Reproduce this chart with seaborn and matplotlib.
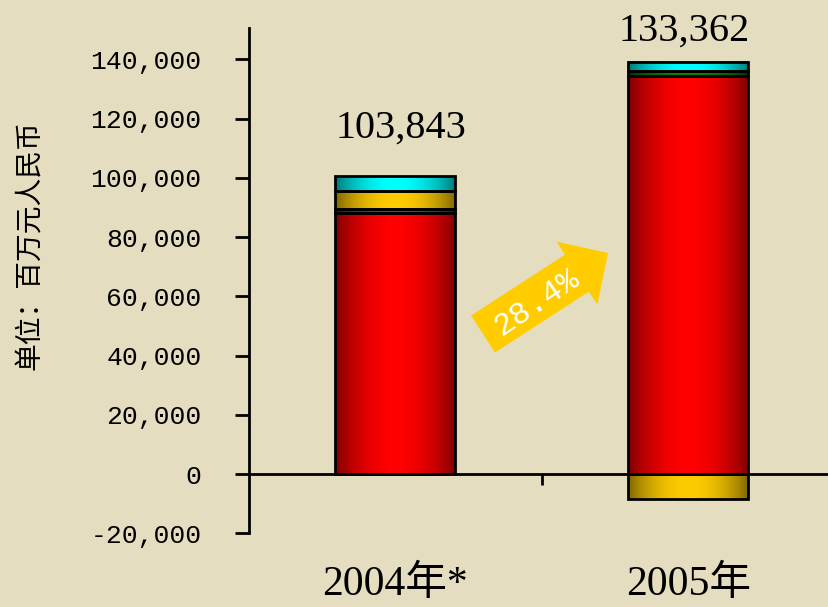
import numpy as np
import matplotlib
matplotlib.use("Agg")
import matplotlib.pyplot as plt
import seaborn as sns
from matplotlib.patches import FancyArrow
from matplotlib.colors import to_rgb

# categories and totals
years = ["2004年*", "2005年"]
totals = [103843, 133362]
growth_label = "28.4%"

# stacked segments (bottom to top), 百万元
seg_red = [88000, 134400]
seg_green = [1350, 1650]
seg_gold = [6300, -8450]
seg_cyan = [5050, 3150]

yticks = [-20000, 0, 20000, 40000, 60000, 80000, 100000, 120000, 140000]

bg = "#E5DDBF"
segments = [
    (seg_red, "#780000", "#ff0000"),
    (seg_green, "#003000", "#008a00"),
    (seg_gold, "#7a6200", "#ffcc00"),
    (seg_cyan, "#007070", "#00ffff"),
]

sns.set_theme(style="white")
plt.rcParams["font.family"] = ["Liberation Serif", "Noto Sans CJK SC", "DejaVu Sans"]

fig = plt.figure(figsize=(8.29, 6.07), dpi=100, facecolor=bg)
ax = fig.add_axes([248.7 / 829, 73.7 / 607, 586 / 829, 505 / 607])
ax.set_facecolor("none")

pos_base = [0.0] * len(years)
neg_base = [0.0] * len(years)
t = np.linspace(0, 1, 256)
shade = np.sin(np.pi * t) ** 0.8

for vals, dark, bright in segments:
    bottoms = [pos_base[i] if v >= 0 else neg_base[i] for i, v in enumerate(vals)]
    n_before = len(ax.patches)
    sns.barplot(x=years, y=vals, bottom=bottoms, width=0.41, color=bright,
                saturation=1, errorbar=None, edgecolor="black", linewidth=2.0,
                ax=ax, zorder=3)
    # horizontal shading: dark edges, bright centre
    d, b = np.array(to_rgb(dark)), np.array(to_rgb(bright))
    rgb = d + (b - d) * shade[:, None]
    for p in ax.patches[n_before:]:
        x0, y0, w, h = p.get_x(), p.get_y(), p.get_width(), p.get_height()
        ax.imshow(rgb[None, :, :], extent=[x0, x0 + w, y0, y0 + h],
                  aspect="auto", zorder=2, interpolation="bilinear")
        p.set_facecolor("none")
    for i, v in enumerate(vals):
        if v >= 0:
            pos_base[i] += v
        else:
            neg_base[i] += v

ax.set_xlim(-0.5, 1.5)
ax.set_ylim(-20000, 150450)

# axes styling
ax.spines["top"].set_visible(False)
ax.spines["right"].set_visible(False)
ax.spines["left"].set_linewidth(2)
ax.spines["left"].set_color("black")
ax.spines["bottom"].set_position(("data", 0))
ax.spines["bottom"].set_linewidth(2)
ax.spines["bottom"].set_color("black")

ax.set_yticks(yticks, [f"{v:,}" for v in yticks])
ax.tick_params(axis="y", left=True, direction="out", length=10, width=2,
               pad=24, labelsize=19, colors="black")
for lbl in ax.get_yticklabels():
    lbl.set_fontfamily("Liberation Mono")

ax.set_xticks([0, 1], years)
ax.tick_params(axis="x", which="major", bottom=True, length=0, pad=66,
               labelsize=30, colors="black")
ax.set_xticks([0.5], minor=True)
ax.tick_params(axis="x", which="minor", bottom=True, length=8, width=2,
               direction="out", color="black")

ax.set_ylabel("单位：百万元人民币", family=["Noto Sans CJK SC"], fontsize=20,
              color="black")
ax.yaxis.set_label_coords(-0.35, 0.57)
ax.set_xlabel("")

# totals above bars
label_x = [0.02, 0.985]
label_y = [116800, 149400]
for i, tot in enumerate(totals):
    ax.text(label_x[i], label_y[i], f"{tot:,}", ha="center", va="center",
            fontsize=29, family="Liberation Serif", color="black")

# growth arrow
arrow = FancyArrow(4.83, 2.73, 1.25, 0.81, width=0.44, head_width=0.75,
                   head_length=0.37, length_includes_head=True,
                   color="#FFCC00", linewidth=0, transform=fig.dpi_scale_trans)
fig.add_artist(arrow)
fig.text(537 / 829, 305 / 607, growth_label, rotation=34, color="white",
         fontsize=23, family="Liberation Mono", ha="center", va="center",
         rotation_mode="anchor")

fig.savefig("out.png", dpi=100, facecolor=fig.get_facecolor())
